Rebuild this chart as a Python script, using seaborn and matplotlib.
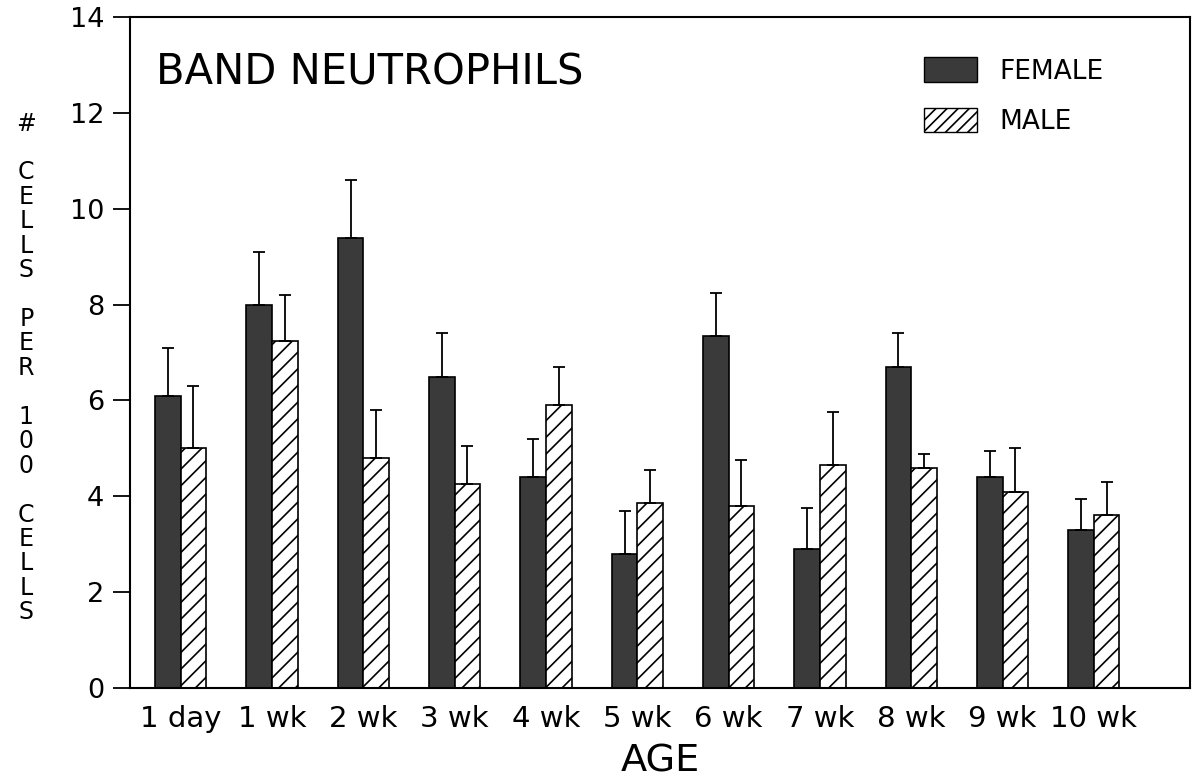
import matplotlib.pyplot as plt
import matplotlib.patches as mpatches
import pandas as pd
import seaborn as sns

ages = ['1 day', '1 wk', '2 wk', '3 wk', '4 wk', '5 wk', '6 wk', '7 wk', '8 wk', '9 wk', '10 wk']
female = [6.1, 8.0, 9.4, 6.5, 4.4, 2.8, 7.35, 2.9, 6.7, 4.4, 3.3]
female_err = [1.0, 1.1, 1.2, 0.9, 0.8, 0.9, 0.9, 0.85, 0.7, 0.55, 0.65]
male = [5.0, 7.25, 4.8, 4.25, 5.9, 3.85, 3.8, 4.65, 4.6, 4.1, 3.6]
male_err = [1.3, 0.95, 1.0, 0.8, 0.8, 0.7, 0.95, 1.1, 0.28, 0.9, 0.7]
ylabel_words = ['#', 'CELLS', 'PER', '100', 'CELLS']

sns.set_style("white")
plt.rcParams['font.family'] = ['DejaVu Sans']
plt.rcParams['hatch.linewidth'] = 1.2
plt.rcParams['text.color'] = 'black'
plt.rcParams['axes.labelcolor'] = 'black'
plt.rcParams['xtick.color'] = 'black'
plt.rcParams['ytick.color'] = 'black'

df = pd.DataFrame({
    'age': ages * 2,
    'sex': ['FEMALE'] * len(ages) + ['MALE'] * len(ages),
    'value': female + male,
})

fig = plt.figure(figsize=(11.97, 7.8), dpi=100)
ax = fig.add_axes([0.109, 0.118, 0.885, 0.860])

sns.barplot(data=df, x='age', y='value', hue='sex', order=ages, hue_order=['FEMALE', 'MALE'],
            palette={'FEMALE': '#3a3a3a', 'MALE': 'white'}, edgecolor='black', linewidth=1.2,
            width=0.56, errorbar=None, ax=ax)

# male bars get the diagonal hatch
for bar in ax.containers[1]:
    bar.set_hatch('//')

# upper-only error bars
for cont, errs in zip(ax.containers, [female_err, male_err]):
    for bar, e in zip(cont, errs):
        x = bar.get_x() + bar.get_width() / 2
        ax.errorbar(x, bar.get_height(), yerr=[[0], [e]], fmt='none', ecolor='black',
                    elinewidth=1.3, capsize=4, capthick=1.3)

ax.set_xlim(-0.55, 11.05)
ax.set_ylim(0, 14)
ax.set_yticks(range(0, 15, 2))
for s in ax.spines.values():
    s.set_linewidth(1.5)
    s.set_color('black')
ax.tick_params(axis='y', direction='out', length=12, width=1.3, pad=7, labelsize=19.5, left=True)
ax.tick_params(axis='x', length=0, pad=12, labelsize=21)
ax.set_xlabel('AGE', fontsize=27.5, labelpad=8)
ax.set_ylabel('')

ax.text(0.024, 0.918, 'BAND NEUTROPHILS', transform=ax.transAxes, fontsize=30, va='center', ha='left')

handles = [mpatches.Patch(facecolor='#3a3a3a', edgecolor='black', label='FEMALE'),
           mpatches.Patch(facecolor='white', edgecolor='black', hatch='///', label='MALE')]
ax.legend(handles=handles, loc='upper left', bbox_to_anchor=(0.749, 0.94), frameon=False,
          borderpad=0, borderaxespad=0, fontsize=19, handlelength=2.0, handleheight=1.06,
          handletextpad=0.87, labelspacing=0.87)

# stacked vertical y label, one letter per line with a blank line between words
ylabel = '\n\n'.join('\n'.join(w) for w in ylabel_words)
fig.text(0.022, 0.857, ylabel, fontsize=17, ha='center', va='top', linespacing=1.023)

fig.savefig('out.png', dpi=100, facecolor='white')
